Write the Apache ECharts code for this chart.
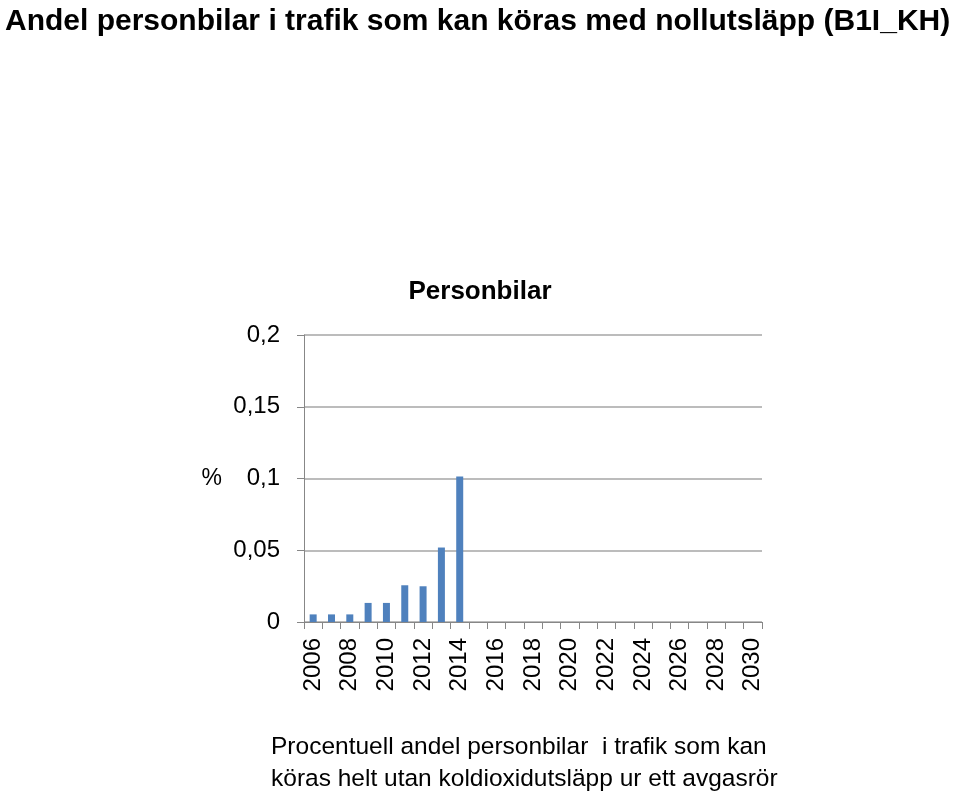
<!DOCTYPE html>
<html><head><meta charset="utf-8">
<script src="https://cdn.jsdelivr.net/npm/echarts@6/dist/echarts.min.js"></script>
<style>html,body{margin:0;padding:0;background:#fff}#c{width:960px;height:791px}</style>
</head><body><div id="c"></div>
<script>
const years = ['2006','2007','2008','2009','2010','2011','2012','2013','2014','2015','2016','2017','2018','2019','2020','2021','2022','2023','2024','2025','2026','2027','2028','2029','2030'];
const shares = [0.0053,0.0053,0.0053,0.0133,0.0133,0.0256,0.0249,0.0519,0.1014,null,null,null,null,null,null,null,null,null,null,null,null,null,null,null,null];
const yTicks = {min:0, max:0.2, interval:0.05};
const titleText = 'Andel personbilar i trafik som kan köras med nollutsläpp (B1I_KH)';
const chartTitle = 'Personbilar';
const caption = 'Procentuell andel personbilar  i trafik som kan\nköras helt utan koldioxidutsläpp ur ett avgasrör';
const font = 'Liberation Sans, Arial, sans-serif';
const chart = echarts.init(document.getElementById('c'));
chart.setOption({
  animation:false,
  title:[
    {text:titleText,left:0,top:2,textStyle:{fontFamily:font,fontSize:30,fontWeight:'bold',color:'#000'}},
    {text:chartTitle,left:'center',top:274,textStyle:{fontFamily:font,fontSize:26,fontWeight:'bold',color:'#000'}},
    {text:caption,left:266,top:726,textStyle:{fontFamily:font,fontSize:24.5,fontWeight:'normal',color:'#000',lineHeight:32}}
  ],
  grid:{left:304,right:198,top:335,bottom:169},
  xAxis:{type:'category',data:years,boundaryGap:true,
    axisLine:{lineStyle:{color:'#878787',width:1}},
    axisTick:{show:true,length:7,interval:0,lineStyle:{color:'#878787'}},
    axisLabel:{interval:1,rotate:90,margin:16,color:'#000',fontFamily:font,fontSize:24}},
  yAxis:{type:'value',min:yTicks.min,max:yTicks.max,interval:yTicks.interval,
    name:'%',nameLocation:'middle',nameRotate:0,nameGap:82,
    nameTextStyle:{fontFamily:font,fontSize:23,color:'#000'},
    axisLine:{show:true,lineStyle:{color:'#878787'}},
    axisTick:{show:true,length:7,lineStyle:{color:'#878787'}},
    splitLine:{lineStyle:{color:'#a6a6a6',width:1.5}},
    axisLabel:{margin:24,color:'#000',fontFamily:font,fontSize:24,
      formatter:v=>String(v).replace('.',',')}},
  series:[{type:'bar',data:shares,barWidth:7,itemStyle:{color:'#4f81bd'}}]
});
</script></body></html>
